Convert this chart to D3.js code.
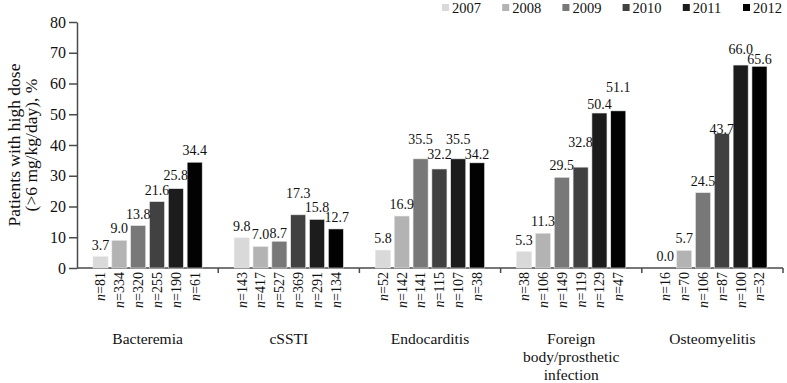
<!DOCTYPE html>
<html>
<head>
<meta charset="utf-8">
<script src="https://cdn.jsdelivr.net/npm/d3@7"></script>
<style>
    body { margin: 0; background: #fff; }
    svg text { font-family: "Liberation Serif", "Times New Roman", serif; fill: #111; }
    .axis path, .axis line { stroke: #4a4a4a; stroke-width: 1.5; }
</style>
</head>
<body>
<div class="chart"></div>
<script>
// data
let categories = ['Bacteremia', 'cSSTI', 'Endocarditis', 'Foreign body/prosthetic infection', 'Osteomyelitis'];
let years = ['2007', '2008', '2009', '2010', '2011', '2012'];
let bacteremia = [3.7, 9.0, 13.8, 21.6, 25.8, 34.4];
let cssti = [9.8, 7.0, 8.7, 17.3, 15.8, 12.7];
let endocarditis = [5.8, 16.9, 35.5, 32.2, 35.5, 34.2];
let foreignBody = [5.3, 11.3, 29.5, 32.8, 50.4, 51.1];
let osteomyelitis = [0.0, 5.7, 24.5, 43.7, 66.0, 65.6];
let nBacteremia = [81, 334, 320, 255, 190, 61];
let nCssti = [143, 417, 527, 369, 291, 134];
let nEndocarditis = [52, 142, 141, 115, 107, 38];
let nForeignBody = [38, 106, 149, 119, 129, 47];
let nOsteomyelitis = [16, 70, 106, 87, 100, 32];
let yTicks = [0, 10, 20, 30, 40, 50, 60, 70, 80];

let values = [bacteremia, cssti, endocarditis, foreignBody, osteomyelitis];
let counts = [nBacteremia, nCssti, nEndocarditis, nForeignBody, nOsteomyelitis];
let catLines = [['Bacteremia'], ['cSSTI'], ['Endocarditis'], ['Foreign', 'body/prosthetic', 'infection'], ['Osteomyelitis']];

let color = d3.scaleOrdinal().domain(years)
    .range(['#d9d9d9', '#b3b3b3', '#787878', '#414141', '#1c1c1c', '#020202']);

// label nudges (px, up is positive) so overlapping labels sit like the original
let nudge = {
    'cSSTI|2009': [-1, -4], 'cSSTI|2010': [0, 10], 'cSSTI|2012': [1, 0],
    'Endocarditis|2009': [0, 8], 'Endocarditis|2010': [0, 3], 'Endocarditis|2011': [0, 8], 'Endocarditis|2012': [0, -3],
    'Foreign body/prosthetic infection|2010': [0, 13], 'Foreign body/prosthetic infection|2011': [0, -3],
    'Foreign body/prosthetic infection|2012': [0, 12],
    'Osteomyelitis|2010': [0, -7], 'Osteomyelitis|2011': [0, 4], 'Osteomyelitis|2012': [0, -5],
    'Bacteremia|2011': [0, 2]
};

let data = [];
categories.forEach((c, i) => {
    years.forEach((yr, j) => {
        data.push({ cat: c, year: yr, value: values[i][j], n: counts[i][j] });
    });
});

let margin = { top: 22, right: 4, bottom: 115, left: 77 },
    width = 787 - margin.left - margin.right,
    height = 383 - margin.top - margin.bottom;

let x0 = d3.scaleBand().domain(categories).range([0, width]).padding(0);
let x1 = d3.scaleBand().domain(years).range([16, x0.bandwidth() - 16]).paddingInner(0.2);
let y = d3.scaleLinear().domain([0, 80]).range([height, 0]);

let svg = d3.select('.chart').append('svg')
    .attr('width', 787)
    .attr('height', 383);

let g = svg.append('g')
    .attr('transform', 'translate(' + margin.left + ',' + margin.top + ')');

// y axis
g.append('g')
    .attr('class', 'axis y')
    .call(d3.axisLeft(y).tickValues(yTicks).tickSize(8).tickSizeOuter(0).tickPadding(3))
    .selectAll('text')
    .style('font-size', '16px')
    .attr('fill', '#111');

// x axis line with ticks between groups
let xAxis = g.append('g')
    .attr('class', 'axis x')
    .attr('transform', 'translate(0,' + height + ')');
xAxis.append('line').attr('x1', 0).attr('x2', width).attr('y1', 0).attr('y2', 0);
xAxis.selectAll('.sep')
    .data(categories)
    .enter().append('line')
    .attr('class', 'sep')
    .attr('x1', d => x0(d) + x0.bandwidth())
    .attr('x2', d => x0(d) + x0.bandwidth())
    .attr('y1', 0).attr('y2', 5);

let groups = g.selectAll('.group')
    .data(categories)
    .enter().append('g')
    .attr('class', 'group')
    .attr('transform', d => 'translate(' + x0(d) + ',0)');

let bars = groups.selectAll('.bar')
    .data(c => data.filter(d => d.cat === c))
    .enter();

bars.append('rect')
    .attr('class', 'bar')
    .attr('x', d => x1(d.year))
    .attr('width', x1.bandwidth())
    .attr('y', d => y(d.value))
    .attr('height', d => height - y(d.value))
    .attr('fill', d => color(d.year))
    .attr('stroke', '#e8e8e8')
    .attr('stroke-width', 0.6);

bars.append('text')
    .attr('class', 'val')
    .attr('x', d => x1(d.year) + x1.bandwidth() / 2 + (nudge[d.cat + '|' + d.year] || [0, 0])[0])
    .attr('y', d => y(d.value) - 7 - (nudge[d.cat + '|' + d.year] || [0, 0])[1])
    .attr('text-anchor', 'middle')
    .style('font-size', '14px')
    .text(d => d.value.toFixed(1));

let nText = bars.append('text')
    .attr('class', 'nlab')
    .attr('transform', d => 'translate(' + (x1(d.year) + x1.bandwidth() / 2) + ',' + (height + 4) + ') rotate(-90)')
    .attr('text-anchor', 'end')
    .attr('dy', '0.35em')
    .style('font-size', '14px');
nText.append('tspan').style('font-style', 'italic').text('n');
nText.append('tspan').text(d => '=' + d.n);

// category labels
groups.append('text')
    .attr('class', 'cat')
    .attr('text-anchor', 'middle')
    .style('font-size', '15.5px')
    .selectAll('tspan')
    .data((c, i) => catLines[i])
    .enter().append('tspan')
    .attr('x', x0.bandwidth() / 2)
    .attr('y', (d, i) => height + 76 + i * 18)
    .text(d => d);

// y title
let title = svg.append('text')
    .attr('transform', 'translate(20,' + (margin.top + height / 2) + ') rotate(-90)')
    .attr('text-anchor', 'middle')
    .style('font-size', '17.5px');
title.append('tspan').attr('x', 0).attr('y', 0).text('Patients with high dose');
title.append('tspan').attr('x', 0).attr('y', 17).text('(>6 mg/kg/day), %');

// legend
let legend = svg.append('g').attr('class', 'legend')
    .attr('transform', 'translate(442,0)');
let item = legend.selectAll('.item')
    .data(years)
    .enter().append('g')
    .attr('class', 'item')
    .attr('transform', (d, i) => 'translate(' + i * 60.2 + ',0)');
item.append('rect')
    .attr('x', 0).attr('y', 4)
    .attr('width', 7).attr('height', 7)
    .attr('fill', d => color(d));
item.append('text')
    .attr('x', 10).attr('y', 12.5)
    .style('font-size', '14.5px')
    .text(d => d);
</script>
</body>
</html>
